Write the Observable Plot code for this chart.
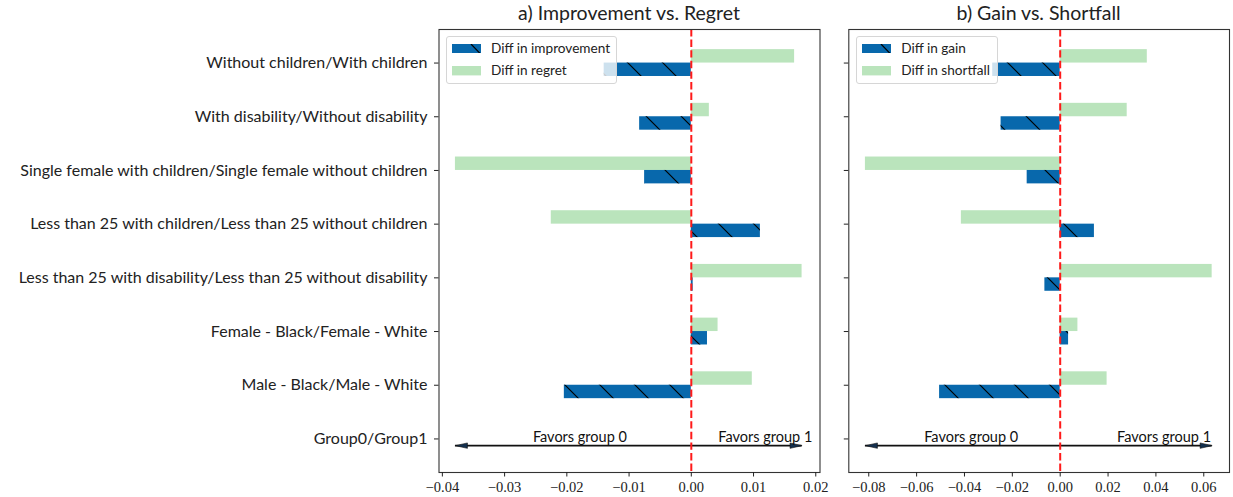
<!DOCTYPE html>
<html>
<head>
<meta charset="utf-8">
<script src="https://cdn.jsdelivr.net/npm/d3@7"></script>
<script src="https://cdn.jsdelivr.net/npm/@observablehq/plot@0.6"></script>
<style>
  html, body { margin: 0; padding: 0; background: #fff; }
  #wrap { position: relative; width: 1233px; height: 497px; overflow: hidden; font-family: Lato, sans-serif; color: #222; }
  .panel { position: absolute; top: 27px; }
  .title { position: absolute; top: 0px; height: 26px; line-height: 26px; font-size: 19.5px; text-align: center; white-space: nowrap; }
  .legend { position: absolute; top: 36px; height: 48px; box-sizing: border-box; background: rgba(255,255,255,0.8); border: 1px solid #d6d6d6; border-radius: 3px; }
  .legend .row { position: absolute; left: 5px; height: 10px; }
  .legend .lab { position: absolute; left: 39.5px; top: -7px; font-size: 13.6px; line-height: 22px; white-space: nowrap; color: #222; }
  .legend svg { position: absolute; left: 0; top: 0; }
</style>
</head>
<body>
<div id="wrap"></div>
<script>
// ---- data (top to bottom) ----
const categories = [
  "Without children/With children",
  "With disability/Without disability",
  "Single female with children/Single female without children",
  "Less than 25 with children/Less than 25 without children",
  "Less than 25 with disability/Less than 25 without disability",
  "Female - Black/Female - White",
  "Male - Black/Male - White",
  "Group0/Group1"
];
const improvement = [-0.0140, -0.0083, -0.0075, 0.0111, 0.0003, 0.0026, -0.0204];
const regret      = [ 0.0166,  0.0029, -0.0379, -0.0225, 0.0178, 0.0043, 0.0098];
const gain        = [-0.0282, -0.0247, -0.0138, 0.0143, -0.0064, 0.0035, -0.0504];
const shortfall   = [ 0.0364,  0.0280, -0.0814, -0.0413, 0.0635, 0.0074, 0.0196];
const leftTicks  = [-0.04, -0.03, -0.02, -0.01, 0.00, 0.01, 0.02];
const rightTicks = [-0.08, -0.06, -0.04, -0.02, 0.00, 0.02, 0.04, 0.06];
const leftFavors  = [{label: "Favors group 0", x: -0.0179}, {label: "Favors group 1", x: 0.0119}];
const rightFavors = [{label: "Favors group 0", x: -0.0372}, {label: "Favors group 1", x: 0.0434}];

const BLUE = "#0868ac", GREEN = "#bae4bc";
const n = categories.length;
const pos = i => n - 1 - i;  // index -> y position (top = largest)
const yTicks = categories.map((c, i) => pos(i));

const arrowHead = {
  draw(ctx) { ctx.moveTo(0, 0); ctx.lineTo(-12, -2.7); ctx.lineTo(-12, 2.7); ctx.closePath(); }
};

function panel({neg, posv, xDomain, ticks, favors, showLabels, marginLeft, marginRight, width, hatchId}) {
  const blueData = neg.map((v, i) => ({v, y1: pos(i) - 0.25, y2: pos(i)}));
  const greenData = posv.map((v, i) => ({v, y1: pos(i), y2: pos(i) + 0.25}));
  const all = neg.concat(posv);
  const lo = d3.min(all), hi = d3.max(all);
  const arrowY = pos(n - 1) - 0.125;
  const svg = Plot.plot({
    width, height: 470,
    marginLeft, marginRight, marginTop: 2, marginBottom: 25,
    style: {fontFamily: "Lato", fontSize: "15px", color: "#222", background: "transparent", overflow: "visible"},
    x: {domain: xDomain},
    y: {domain: [-0.625, 7.625]},
    marks: [
      Plot.rect(greenData, {x1: 0, x2: "v", y1: "y1", y2: "y2", fill: GREEN}),
      Plot.rect(blueData, {x1: 0, x2: "v", y1: "y1", y2: "y2", fill: BLUE}),
      Plot.rect(blueData, {x1: 0, x2: "v", y1: "y1", y2: "y2", fill: `url(#${hatchId})`}),
      Plot.ruleY([{y: arrowY, x1: lo, x2: hi}], {y: "y", x1: "x1", x2: "x2", stroke: "#111", strokeWidth: 1.6}),
      Plot.dot([{x: hi, y: arrowY, r: 0}, {x: lo, y: arrowY, r: 180}], {x: "x", y: "y", rotate: "r", symbol: arrowHead, fill: "#14304f", stroke: "#111", strokeWidth: 0.6, r: 5}),
      Plot.text(favors, {x: "x", y: pos(n - 1), text: "label", dy: -2, fontSize: 14.5, fontFamily: "Lato", fill: "#111"}),
      Plot.ruleX([0], {stroke: "#ff1a1a", strokeWidth: 2, strokeDasharray: "7.4,3.2"}),
      Plot.frame({stroke: "#333", strokeWidth: 1.1}),
      Plot.axisY({ticks: yTicks, tickSize: 4.5, tickPadding: 7, tickFormat: showLabels ? (d => categories[n - 1 - d]) : (() => ""), fontSize: 16, fontFamily: "Lato", color: "#222"}),
      Plot.axisX({ticks, tickSize: 4.5, tickPadding: 5, tickFormat: d3.format(".2f"), fontSize: 14.5, fontFamily: "Liberation Serif", color: "#222"})
    ]
  });
  return svg;
}

function addHatch(svg, id, offset) {
  d3.select(svg).insert("defs", ":first-child").html(
    `<pattern id="${id}" patternUnits="userSpaceOnUse" width="35" height="35" patternTransform="translate(${offset},0)">
       <path d="M0,0L35,35M-2,33L2,37M33,-2L37,2" stroke="#000" stroke-width="1.2" fill="none"/>
     </pattern>`);
}

const wrap = document.getElementById("wrap");

// Left panel
const left = panel({neg: improvement, posv: regret, xDomain: [-0.04054, 0.02068], ticks: leftTicks, favors: leftFavors,
  showLabels: true, marginLeft: 438.5, marginRight: 10.5, width: 830, hatchId: "hatchL"});
addHatch(left, "hatchL", 32);
left.classList.add("panel");
left.style.left = "0px";
wrap.appendChild(left);

// Right panel
const right = panel({neg: gain, posv: shortfall, xDomain: [-0.08834, 0.07075], ticks: rightTicks, favors: rightFavors,
  showLabels: false, marginLeft: 18.3, marginRight: 4, width: 403, hatchId: "hatchR"});
addHatch(right, "hatchR", 2);
right.classList.add("panel");
right.style.left = "830px";
wrap.appendChild(right);

// Titles
function title(text, cx) {
  const d = document.createElement("div");
  d.className = "title";
  d.textContent = text;
  d.style.left = (cx - 200) + "px";
  d.style.width = "400px";
  wrap.appendChild(d);
}
title("a) Improvement vs. Regret", 629);
title("b) Gain vs. Shortfall", 1038.6);

// Legends
function legend(x, w, labels) {
  const box = document.createElement("div");
  box.className = "legend";
  box.style.left = x + "px";
  box.style.width = w + "px";
  const colors = [BLUE, GREEN];
  labels.forEach((lab, i) => {
    const row = document.createElement("div");
    row.className = "row";
    row.style.top = (7 + i * 22.3) + "px";
    const hatch = i === 0 ? `<line x1="19" y1="0" x2="28" y2="9.4" stroke="#000" stroke-width="1.2"/>` : "";
    row.innerHTML = `<svg width="29" height="9.4"><rect width="29" height="9.4" fill="${colors[i]}"/>${hatch}</svg><span class="lab">${lab}</span>`;
    box.appendChild(row);
  });
  wrap.appendChild(box);
}
legend(445.5, 171.5, ["Diff in improvement", "Diff in regret"]);
legend(855.7, 142.3, ["Diff in gain", "Diff in shortfall"]);
</script>
</body>
</html>
